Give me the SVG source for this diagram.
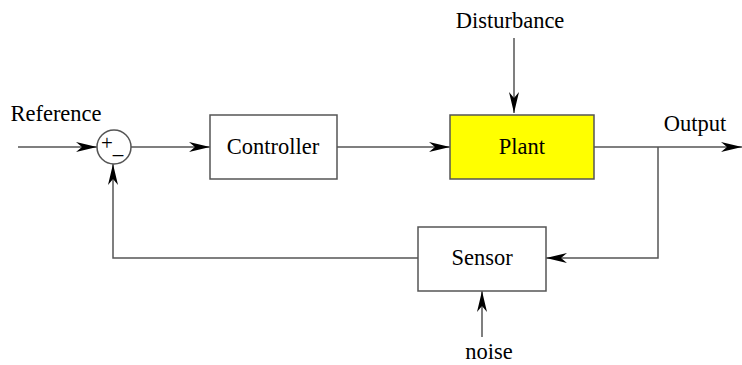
<svg xmlns="http://www.w3.org/2000/svg" width="742" height="365" viewBox="0 0 742 365">
<style>
.box{fill:#fff;stroke:#555;stroke-width:1.5}
.plant{fill:#ffff00;stroke:#555;stroke-width:1.5}
.lbl{font-family:"Liberation Serif","Times New Roman",serif;font-size:22.5px;fill:#000}
.sym{font-family:"Liberation Serif","Times New Roman",serif;font-size:21px;fill:#000}
.ctr{text-anchor:middle}
.wire{fill:none;stroke:#555;stroke-width:1.5}
</style>
<defs>
<marker id="ah" markerUnits="userSpaceOnUse" viewBox="-22 -6 23 12" refX="0" refY="0" markerWidth="23" markerHeight="12" orient="auto">
<path d="M0,0 L-21,-5 L-15,0 L-21,5 Z" fill="#000"/>
</marker>
</defs>
<rect width="742" height="365" fill="#fff"/>
<g id="connectors">
<path class="wire" d="M18,147 H97" marker-end="url(#ah)"/>
<path class="wire" d="M131,147 H210" marker-end="url(#ah)"/>
<path class="wire" d="M337,147 H450" marker-end="url(#ah)"/>
<path class="wire" d="M514,38 V113" marker-end="url(#ah)"/>
<path class="wire" d="M594,147 H742" marker-end="url(#ah)"/>
<path class="wire" d="M658,147 V258 H546" marker-end="url(#ah)"/>
<path class="wire" d="M418,258 H113 V164" marker-end="url(#ah)"/>
<path class="wire" d="M482,337 V291" marker-end="url(#ah)"/>
</g>
<g id="sum">
<circle cx="114" cy="147" r="17" class="box"/>
<text x="101" y="150" class="sym">+<tspan dy="3">_</tspan></text>
</g>
<g id="controller">
<rect x="210" y="115" width="127" height="64" class="box"/>
<text x="273" y="154" class="lbl ctr">Controller</text>
</g>
<g id="plant">
<rect x="450" y="115" width="144" height="64" class="plant"/>
<text x="522" y="154" class="lbl ctr">Plant</text>
</g>
<g id="sensor">
<rect x="418" y="227" width="128" height="64" class="box"/>
<text x="482" y="265" class="lbl ctr">Sensor</text>
</g>
<g id="reference"><text x="56" y="121" class="lbl ctr">Reference</text></g>
<g id="disturbance"><text x="510" y="28" class="lbl ctr">Disturbance</text></g>
<g id="output"><text x="695" y="131" class="lbl ctr">Output</text></g>
<g id="noise"><text x="489" y="359" class="lbl ctr">noise</text></g>
</svg>
